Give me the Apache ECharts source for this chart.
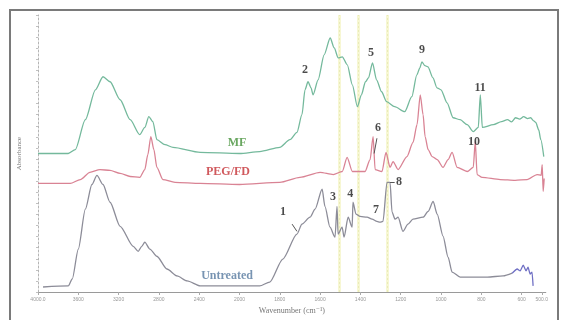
<!DOCTYPE html>
<html>
<head>
<meta charset="utf-8">
<script src="https://cdn.jsdelivr.net/npm/echarts@6/dist/echarts.min.js"></script>
<style>
  html, body { margin: 0; padding: 0; background: #fff; }
  #chart { width: 561px; height: 320px; }
</style>
</head>
<body>
<div id="chart"></div>
<script>
// FTIR spectra: wavenumber (cm-1) and absorbance (a.u., traces offset vertically)
const mfWn = [4000,3700,3630,3530,3430,3355,3285,3185,3085,2990,2940,2900,2860,2820,2740,2660,2390,2000,1900,1800,1750,1715,1690,1675,1660,1645,1635,1610,1580,1550,1530,1510,1490,1465,1440,1415,1395,1375,1360,1340,1320,1295,1270,1230,1180,1145,1120,1105,1095,1080,1065,1040,1020,1000,970,940,905,870,840,815,805,795,740,700,670,650,630,610,590,570,555,540,530,515,505,490];
const mfAbs = [50.0,50.0,51.4,62.2,73.0,77.7,75.9,69.4,62.2,56.8,59.4,63.3,61.5,55.0,53.2,52.2,50.4,50.0,50.7,52.2,55.0,57.6,64.0,73.0,75.9,73.7,71.2,76.6,85.6,91.7,88.1,84.5,84.9,82.0,74.8,66.9,71.2,75.9,77.3,82.7,76.6,72.3,68.7,66.9,65.1,70.5,78.4,80.9,83.1,81.7,81.3,77.3,73.7,73.0,68.3,62.9,62.2,60.4,57.9,59.4,71.2,59.4,60.4,61.5,62.2,61.4,62.9,62.4,63.3,62.6,62.9,61.8,61.2,58.5,55.0,48.9];

const pegWn = [4000,3680,3580,3485,3385,3285,3185,3085,2990,2940,2910,2880,2850,2820,2760,2640,2390,2000,1800,1700,1600,1535,1490,1466,1440,1377,1352,1337,1327,1293,1273,1253,1238,1213,1169,1139,1119,1103,1089,1079,1064,1044,1019,990,965,945,920,870,840,830,821,796,706,632,573,523,503,498,493,488];
const pegAbs = [39.2,39.2,40.6,43.2,44.2,43.9,42.8,41.7,41.4,44.2,49.6,56.1,51.4,45.0,40.6,39.6,39.2,38.8,39.6,41.4,43.2,42.4,43.5,48.6,43.5,43.5,47.8,56.1,44.2,43.5,50.4,45.0,47.1,44.2,48.9,54.0,60.4,71.2,64.0,56.1,51.4,48.9,47.8,45.0,47.8,50.4,45.0,43.5,45.0,54.3,42.4,41.4,40.6,40.3,40.6,42.4,42.1,46.0,36.3,41.0];

// untreated: main trace and the noisy low-wavenumber tail
const untWn = [3950,3700,3660,3600,3530,3465,3415,3355,3285,3185,3055,3005,2970,2940,2890,2820,2720,2620,2520,2390,2190,2000,1900,1850,1785,1715,1690,1650,1625,1590,1576,1551,1526,1516,1511,1491,1481,1461,1441,1437,1422,1402,1367,1342,1318,1303,1288,1268,1253,1243,1228,1213,1189,1164,1139,1089,1064,1039,1019,990,965,945,905,840,770,692,647];
const untAbs = [1.8,2.2,4.7,15.5,29.9,38.8,42.1,38.8,32.4,23.7,16.5,14.7,16.5,18.0,15.5,12.9,8.3,5.8,4.0,2.2,2.2,2.2,2.2,3.6,11.9,20.9,24.5,27.0,29.9,37.1,30.9,23.4,19.8,30.9,20.9,23.4,19.8,27.0,23.4,32.4,28.1,27.3,27.0,26.3,25.5,25.2,25.5,39.6,39.6,28.8,26.3,27.0,21.9,24.5,26.3,27.0,29.1,32.7,28.1,20.2,12.6,7.2,5.4,5.4,5.4,5.8,6.8];
const untTailWn = [647,622,607,592,578,568,558,548,543];
const untTailAbs = [6.8,8.3,7.6,9.7,7.6,9.0,6.5,7.2,2.2];

// reference lines (cm-1)
const guideWn = [1506, 1412, 1268];

// band numbers and where they sit
const peakNames = ['1','2','3','4','5','6','7','8','9','10','11'];
const peakWn    = [1784,1675,1536,1451,1347,1313,1323,1208,1094,836,806];
const peakAbs   = [28.8,80.2,34.2,35.3,86.3,59.4,29.5,39.6,87.4,54.3,73.7];

// short leader ticks from a band number to its peak: [wn1, abs1, wn2, abs2]
const leaders = [
  [1739, 24.5, 1715, 21.9],
  [1253, 39.6, 1230, 39.6],
  [1332, 50.0, 1318, 55.5]
];

// trace names and their label anchors
const traceNames = ['MF','PEG/FD','Untreated'];
const traceLabelWn  = [2025, 2114, 2124];
const traceLabelAbs = [54.0, 43.2, 5.8];
const traceColors = ['#45913a', '#c42f35', '#56799f'];

const tickLabels = ['4000.0','3600','3200','2800','2400','2000','1800','1600','1400','1200','1000','800','600','500.0'];
const tickPos = [0,1,2,3,4,5,6,7,8,9,10,11,12,12.5];

// the wavenumber scale is expanded 2x below 2000 cm-1
function pos(wn) { return wn >= 2000 ? (4000 - wn) / 400 : 5 + (2000 - wn) / 200; }
function pairs(wn, ab) { return wn.map((w, i) => [pos(w), ab[i]]); }

const chart = echarts.init(document.getElementById('chart'), null, { renderer: 'canvas' });

const serif = '"Liberation Serif", "DejaVu Serif", serif';
const guideLines = guideWn.map(w => ({ xAxis: pos(w) }));

const lineBase = { type: 'line', showSymbol: false, smooth: 0.25, smoothMonotone: 'x', z: 3 };

const option = {
  animation: false,
  backgroundColor: '#fff',
  grid: { left: 38, right: 15.2, top: 15, bottom: 27 },
  xAxis: {
    type: 'value', min: 0, max: 12.6,
    axisLine: { onZero: false, lineStyle: { color: '#9a9a9a', width: 1 } },
    axisTick: { customValues: tickPos, length: 3, lineStyle: { color: '#aaa' } },
    axisLabel: {
      customValues: tickPos, fontSize: 5, color: '#999', margin: 5,
      formatter: v => tickLabels[tickPos.indexOf(v)] || ''
    },
    splitLine: { show: false },
    name: 'Wavenumber (cm\u207B\u00B9)', nameLocation: 'middle', nameGap: 15,
    nameTextStyle: { fontFamily: serif, fontSize: 8, color: '#777' }
  },
  yAxis: {
    type: 'value', min: 0, max: 100, interval: 4,
    axisLine: { show: true, lineStyle: { color: '#b5b5b5', type: [2, 2], width: 1 } },
    axisTick: { show: true, length: 2, lineStyle: { color: '#c0c0c0' } },
    axisLabel: { show: false },
    splitLine: { show: false },
    name: 'Absorbance', nameLocation: 'middle', nameGap: 15,
    nameTextStyle: { fontFamily: serif, fontSize: 7, color: '#777' }
  },
  series: [
    Object.assign({}, lineBase, {
      name: 'MF', data: pairs(mfWn, mfAbs),
      lineStyle: { color: '#74b99c', width: 1.3 },
      markLine: {
        symbol: 'none', silent: true, label: { show: false }, z: 1,
        lineStyle: { color: 'rgba(244,244,196,0.75)', width: 3, type: 'solid' },
        data: guideLines
      }
    }),
    Object.assign({}, lineBase, {
      name: 'PEG/FD', data: pairs(pegWn, pegAbs),
      lineStyle: { color: '#d98394', width: 1.3 },
      markLine: {
        symbol: 'none', silent: true, label: { show: false }, z: 1,
        lineStyle: { color: 'rgba(214,220,150,0.45)', width: 1, type: [2, 2] },
        data: guideLines
      }
    }),
    Object.assign({}, lineBase, {
      name: 'Untreated', data: pairs(untWn, untAbs),
      lineStyle: { color: '#8c8c98', width: 1.3 }
    }),
    Object.assign({}, lineBase, {
      name: 'Untreated tail', data: pairs(untTailWn, untTailAbs), smooth: 0.15,
      lineStyle: { color: '#6f6fc4', width: 1.3 }
    }),
    {
      type: 'scatter', name: 'bands', symbolSize: 0, silent: true, z: 5,
      data: peakNames.map((n, i) => ({ value: [pos(peakWn[i]), peakAbs[i]], name: n })),
      label: {
        show: true, position: 'inside', formatter: p => p.name,
        fontFamily: serif, fontWeight: 'bold', fontSize: 12, color: '#1e1e1e'
      },
      markLine: {
        symbol: 'none', silent: true, label: { show: false },
        lineStyle: { color: '#555', width: 1, type: 'solid' },
        data: leaders.map(l => [{ coord: [pos(l[0]), l[1]] }, { coord: [pos(l[2]), l[3]] }])
      }
    },
    {
      type: 'scatter', name: 'traces', symbolSize: 0, silent: true, z: 5,
      data: traceNames.map((n, i) => ({
        value: [pos(traceLabelWn[i]), traceLabelAbs[i]], name: n,
        label: { color: traceColors[i] }
      })),
      label: {
        show: true, position: 'inside', fontFamily: serif, fontWeight: 'bold', fontSize: 12,
        formatter: p => p.name
      }
    }
  ],
  graphic: [
    {
      type: 'rect', silent: true, z: 100,
      shape: { x: 10, y: 10, width: 548, height: 314 },
      style: { fill: 'none', stroke: '#7a7a7a', lineWidth: 2 }
    }
  ]
};

chart.setOption(option);
</script>
</body>
</html>
